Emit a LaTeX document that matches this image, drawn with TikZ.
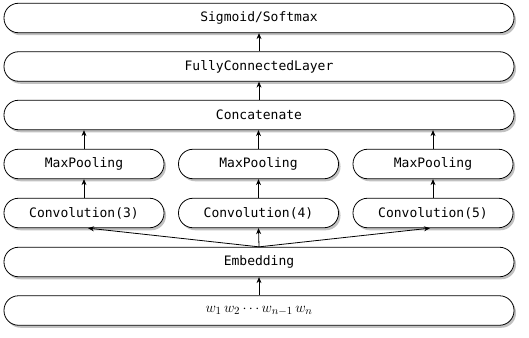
\documentclass[tikz,border=0pt]{standalone}
\usepackage{fontspec}
\setmonofont{DejaVu Sans Mono}
\usetikzlibrary{shadows,arrows.meta}
\begin{document}
\begin{tikzpicture}[x=1pt,y=-1pt,
  layer/.style={draw,thick,fill=white,rounded corners=14.5pt,minimum height=29.5pt,
    inner sep=0pt,font=\ttfamily\fontsize{13}{15}\selectfont,
    drop shadow={shadow xshift=2pt,shadow yshift=-2.5pt,opacity=0.4,fill=black!60}},
  wide/.style={layer,minimum width=510pt},
  narrow/.style={layer,minimum width=160pt},
  arr/.style={-{Stealth[length=6pt,width=5pt]},line width=0.8pt}]
\useasboundingbox[fill=white] (0,0) rectangle (529,337);
\node[wide] (sm) at (259,18) {Sigmoid/Softmax};
\node[wide] (fc) at (259,66.5) {FullyConnectedLayer};
\node[wide] (cat) at (259,115) {Concatenate};
\node[narrow] (mp1) at (84,164) {MaxPooling};
\node[narrow] (mp2) at (258.5,164) {MaxPooling};
\node[narrow] (mp3) at (433,164) {MaxPooling};
\node[narrow] (cv1) at (84,213) {Convolution(3)};
\node[narrow] (cv2) at (258.5,213) {Convolution(4)};
\node[narrow] (cv3) at (433,213) {Convolution(5)};
\node[wide] (emb) at (259,262) {Embedding};
\node[wide,font=\fontsize{15}{17}\selectfont] (inp) at (259,310.5) {$w_1\,w_2\cdots w_{n-1}\,w_n$};
\draw[arr] (inp.north) -- (emb.south);
\draw[arr] (emb.north) -- (cv2.south);
\draw[arr] (emb.north) -- ([xshift=4pt]cv1.south);
\draw[arr] (emb.north) -- ([xshift=-3pt]cv3.south);
\draw[arr] (cv1.north) -- (mp1.south);
\draw[arr] (cv2.north) -- (mp2.south);
\draw[arr] (cv3.north) -- (mp3.south);
\draw[arr] (mp1.north) -- (cat.south -| mp1.north);
\draw[arr] (mp2.north) -- (cat.south -| mp2.north);
\draw[arr] (mp3.north) -- (cat.south -| mp3.north);
\draw[arr] (cat.north) -- (fc.south);
\draw[arr] (fc.north) -- (sm.south);
\end{tikzpicture}
\end{document}
